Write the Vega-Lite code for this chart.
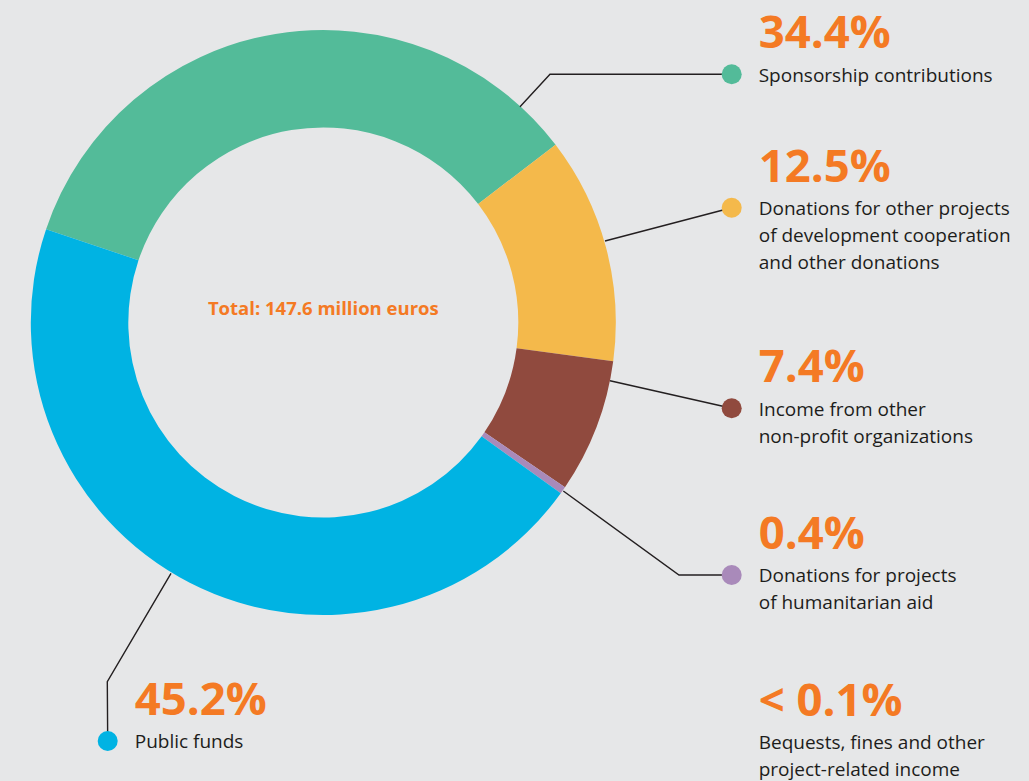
{
  "$schema": "https://vega.github.io/schema/vega-lite/v6.json",
  "width": 1029,
  "height": 781,
  "autosize": {"type": "fit", "contains": "padding"},
  "padding": 0,
  "background": "#e6e7e8",
  "config": {"view": {"stroke": null}, "font": "Open Sans"},
  "datasets": {
    "slices": [
      {"rank": 1, "category": "sponsorship", "share": 34.4, "pct": "34.4%", "lines": ["Sponsorship contributions"], "ax": 731.7, "ay": 74.3},
      {"rank": 2, "category": "other_projects", "share": 12.5, "pct": "12.5%", "lines": ["Donations for other projects", "of development cooperation", "and other donations"], "ax": 731.7, "ay": 207.7},
      {"rank": 3, "category": "npo", "share": 7.4, "pct": "7.4%", "lines": ["Income from other", "non-profit organizations"], "ax": 731.7, "ay": 408.3},
      {"rank": 4, "category": "humanitarian", "share": 0.4, "pct": "0.4%", "lines": ["Donations for projects", "of humanitarian aid"], "ax": 731.7, "ay": 575},
      {"rank": 5, "category": "bequests", "share": 0.05, "pct": "< 0.1%", "lines": ["Bequests, fines and other", "project-related income"], "ax": 731.7, "ay": 742},
      {"rank": 6, "category": "public", "share": 45.2, "pct": "45.2%", "lines": ["Public funds"], "ax": 107.7, "ay": 741}
    ],
    "leaders": [
      {"category": "sponsorship", "seq": 1, "x": 520, "y": 106.7},
      {"category": "sponsorship", "seq": 2, "x": 550, "y": 74.3},
      {"category": "sponsorship", "seq": 3, "x": 731.7, "y": 74.3},
      {"category": "other_projects", "seq": 1, "x": 605, "y": 241},
      {"category": "other_projects", "seq": 2, "x": 731.7, "y": 207.7},
      {"category": "npo", "seq": 1, "x": 610, "y": 380.7},
      {"category": "npo", "seq": 2, "x": 731.7, "y": 408.3},
      {"category": "humanitarian", "seq": 1, "x": 563.3, "y": 491},
      {"category": "humanitarian", "seq": 2, "x": 679, "y": 575},
      {"category": "humanitarian", "seq": 3, "x": 731.7, "y": 575},
      {"category": "public", "seq": 1, "x": 171, "y": 573.3},
      {"category": "public", "seq": 2, "x": 107.3, "y": 681.7},
      {"category": "public", "seq": 3, "x": 107.7, "y": 741}
    ]
  },
  "layer": [
    {
      "data": {"name": "slices"},
      "transform": [{"filter": "datum.share >= 0.2"}],
      "mark": {"type": "arc", "outerRadius": 292.5, "innerRadius": 195},
      "encoding": {
        "theta": {"field": "share", "type": "quantitative", "stack": true, "scale": {"range": [-1.246, 5.0372]}},
        "order": {"field": "rank", "type": "quantitative"},
        "color": {"field": "category", "type": "nominal", "legend": null,
          "scale": {"domain": ["sponsorship", "other_projects", "npo", "humanitarian", "bequests", "public"],
                    "range": ["#53bb99", "#f4b94b", "#904a3e", "#a98aba", "#8a8a8a", "#00b3e3"]}},
        "x": {"datum": 323.3, "type": "quantitative", "scale": {"domain": [0, 1029], "nice": false, "zero": false}, "axis": null},
        "y": {"datum": 322.5, "type": "quantitative", "scale": {"domain": [0, 781], "nice": false, "zero": false, "reverse": true}, "axis": null}
      }
    },
    {
      "data": {"name": "leaders"},
      "mark": {"type": "line", "stroke": "#231f20", "strokeWidth": 1.4},
      "encoding": {
        "x": {"field": "x", "type": "quantitative", "scale": {"domain": [0, 1029], "nice": false, "zero": false}, "axis": null},
        "y": {"field": "y", "type": "quantitative", "scale": {"domain": [0, 781], "nice": false, "zero": false, "reverse": true}, "axis": null},
        "detail": {"field": "category", "type": "nominal"},
        "order": {"field": "seq", "type": "quantitative"}
      }
    },
    {
      "data": {"name": "slices"},
      "transform": [{"filter": "datum.category != 'bequests'"}],
      "mark": {"type": "point", "filled": true, "size": 400, "opacity": 1, "strokeWidth": 0},
      "encoding": {
        "x": {"field": "ax", "type": "quantitative", "scale": {"domain": [0, 1029], "nice": false, "zero": false}, "axis": null},
        "y": {"field": "ay", "type": "quantitative", "scale": {"domain": [0, 781], "nice": false, "zero": false, "reverse": true}, "axis": null},
        "color": {"field": "category", "type": "nominal", "legend": null}
      }
    },
    {
      "data": {"name": "slices"},
      "mark": {"type": "text", "align": "left", "baseline": "alphabetic", "dx": 27, "dy": -26, "fontSize": 45.5, "fontWeight": "bold", "color": "#f47a24"},
      "encoding": {
        "x": {"field": "ax", "type": "quantitative", "scale": {"domain": [0, 1029], "nice": false, "zero": false}, "axis": null},
        "y": {"field": "ay", "type": "quantitative", "scale": {"domain": [0, 781], "nice": false, "zero": false, "reverse": true}, "axis": null},
        "text": {"field": "pct"}
      }
    },
    {
      "data": {"name": "slices"},
      "mark": {"type": "text", "align": "left", "baseline": "alphabetic", "dx": 27, "dy": 7.3, "fontSize": 19, "lineHeight": 27, "color": "#1d1d1b"},
      "encoding": {
        "x": {"field": "ax", "type": "quantitative", "scale": {"domain": [0, 1029], "nice": false, "zero": false}, "axis": null},
        "y": {"field": "ay", "type": "quantitative", "scale": {"domain": [0, 781], "nice": false, "zero": false, "reverse": true}, "axis": null},
        "text": {"field": "lines"}
      }
    },
    {
      "data": {"values": [{"total": "Total: 147.6 million euros"}]},
      "mark": {"type": "text", "align": "center", "baseline": "alphabetic", "fontSize": 18.5, "fontWeight": "bold", "color": "#f47a24"},
      "encoding": {
        "x": {"datum": 323.3, "type": "quantitative", "scale": {"domain": [0, 1029], "nice": false, "zero": false}, "axis": null},
        "y": {"datum": 315, "type": "quantitative", "scale": {"domain": [0, 781], "nice": false, "zero": false, "reverse": true}, "axis": null},
        "text": {"field": "total"}
      }
    }
  ]
}
